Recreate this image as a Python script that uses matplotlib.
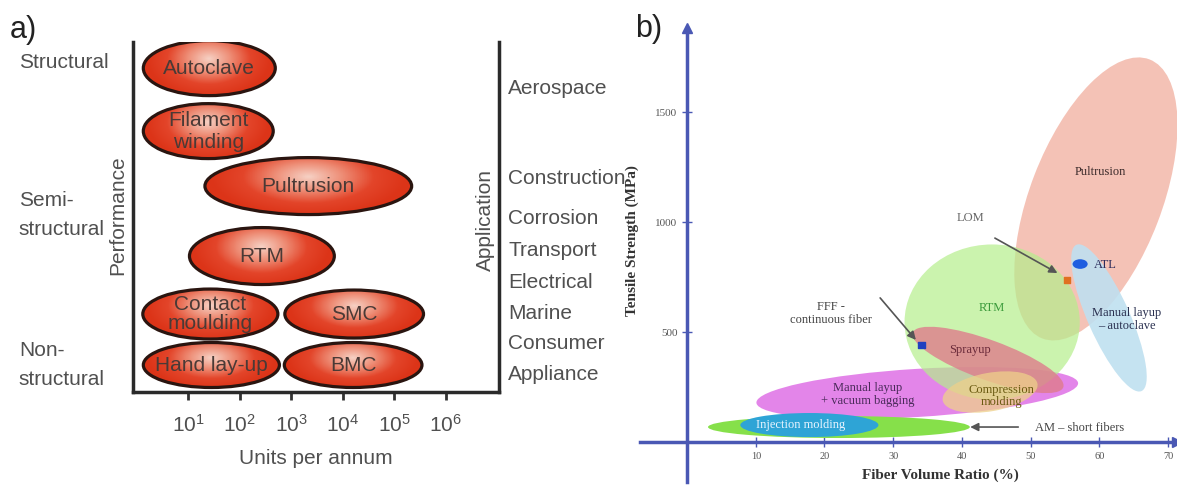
import numpy as np
import matplotlib.pyplot as plt
from matplotlib.patches import Ellipse
from matplotlib.colors import LinearSegmentedColormap
import matplotlib.transforms as mtransforms

plt.rcParams['font.family'] = ['Liberation Sans', 'DejaVu Sans']

# ---------------- panel a: process map ----------------
processes = ['Autoclave', 'Filament\nwinding', 'Pultrusion', 'RTM',
             'Contact\nmoulding', 'SMC', 'Hand lay-up', 'BMC']
units_center = [1.41, 1.39, 3.33, 2.43, 1.43, 4.22, 1.45, 4.20]   # log10(units per annum)
units_span = [2.56, 2.52, 4.01, 2.81, 2.62, 2.69, 2.64, 2.67]     # decades
perf_center = [6.48, 5.22, 4.12, 2.72, 1.56, 1.56, 0.54, 0.54]
perf_span = [1.10, 1.10, 1.14, 1.14, 1.00, 0.96, 0.90, 0.90]
name_spacing = [1.0, 1.2, 1.0, 1.0, 0.95, 1.0, 1.0, 1.0]

perf_levels = ['Structural', 'Semi-\nstructural', 'Non-\nstructural']
perf_level_y = [6.6, 3.54, 0.54]
applications = ['Aerospace', 'Construction', 'Corrosion', 'Transport',
                'Electrical', 'Marine', 'Consumer', 'Appliance']
app_y = [6.08, 4.28, 3.48, 2.84, 2.20, 1.58, 0.98, 0.36]
decades = [1, 2, 3, 4, 5, 6]

# ---------------- panel b: strength vs fibre volume ----------------
regions = ['Pultrusion', 'Manual layup - autoclave', 'Manual layup + vacuum bagging',
           'AM - short fibers', 'Injection molding', 'RTM', 'Sprayup',
           'Compression molding', 'ATL']
fvr_center = [59.5, 61.4, 33.5, 22.1, 17.8, 44.4, 43.8, 44.1, 57.2]     # %
ts_center = [1105, 564, 223, 68, 77, 545, 373, 227, 809]               # MPa
region_major = [43.5, 23.3, 46.9, 38.1, 20.1, 25.5, 23.3, 14.0, 2.2]   # in % units
region_minor = [19.2, 6.1, 7.0, 3.2, 3.5, 22.6, 5.8, 5.6, 1.4]
region_angle = [69, 114, 3.5, 0, 0, 0, -20, 10, 0]
region_color = ['#f4bfb2', '#bfe0f0', '#e27ee8', '#86e04a', '#2ea4d6',
                '#b5ee8c', '#de7c8c', '#eed08a', '#1f5ee0']
region_alpha = [0.95, 0.9, 0.95, 1.0, 1.0, 0.7, 0.8, 0.75, 1.0]

label_text = ['Pultrusion', 'LOM', 'ATL', 'Manual layup\n– autoclave', 'RTM',
              'FFF -\ncontinuous fiber', 'Sprayup', 'Manual layup\n+ vacuum bagging',
              'Compression\nmolding', 'Injection molding', 'AM – short fibers']
label_x = [60.1, 41.2, 60.8, 64.0, 44.4, 21.0, 41.2, 26.3, 45.7, 16.6, 57.2]
label_y = [1227, 1018, 803, 555, 609, 586, 418, 214, 209, 77, 64]
label_color = ['#3a2a2a', '#666666', '#2a2a5a', '#2a3050', '#3a9a3a', '#444444',
               '#6a2a3a', '#4a2a5a', '#6a5a10', '#e8f4ff', '#444444']

# arrows: (start fvr, start ts) -> (end fvr, end ts)
arrow_start_x = [44.8, 28.1, 48.2]
arrow_start_y = [927, 655, 68]
arrow_end_x = [53.9, 33.3, 41.2]
arrow_end_y = [768, 464, 68]
marker_x = [55.3, 34.1]
marker_y = [736, 441]
marker_color = ['#e07020', '#2040c0']

x_ticks_b = [10, 20, 30, 40, 50, 60, 70]
y_ticks_b = [500, 1000, 1500]

serif = ['Liberation Serif', 'DejaVu Serif']
gray = '#505050'

fig = plt.figure(figsize=(11.77, 4.9), dpi=100)

# ================= panel a =================
axa = fig.add_axes([0.113, 0.2, 0.311, 0.714])
cmap = LinearSegmentedColormap.from_list('shade', ['#f6cfc2', '#ee8f78', '#e3452a', '#dc3418'])
gu, gv = np.meshgrid(np.linspace(-1, 1, 120), np.linspace(-1, 1, 60))
shade = np.clip(np.sqrt((gu / 0.95) ** 2 + ((gv - 0.35) / 1.4) ** 2), 0, 1)

for name, xc, xs, yc, ys, ls in zip(processes, units_center, units_span,
                                    perf_center, perf_span, name_spacing):
    ell = Ellipse((xc, yc), xs, ys, facecolor='none', edgecolor='#2a1510', lw=2.3, zorder=3)
    axa.add_patch(ell)
    im = axa.imshow(shade, cmap=cmap, origin='lower', aspect='auto', zorder=2,
                    extent=[xc - xs / 2, xc + xs / 2, yc - ys / 2, yc + ys / 2])
    im.set_clip_path(ell)
    axa.text(xc, yc, name, ha='center', va='center', fontsize=15, color='#4a3a36',
             linespacing=ls, zorder=4)

axa.set_xlim(-0.07, 7.03)
axa.set_ylim(0, 7)
axa.set_xticks(decades, ['$\\mathregular{10^{%d}}$' % d for d in decades])
axa.set_yticks([])
axa.tick_params(axis='x', direction='out', length=6, width=2, color='#333333',
                labelsize=15, labelcolor=gray, pad=10)
axa.spines['top'].set_visible(False)
for s in ['left', 'right', 'bottom']:
    axa.spines[s].set_linewidth(2.5)
    axa.spines[s].set_color('#2a2a2a')
axa.set_xlabel('Units per annum', fontsize=15, color=gray, labelpad=9)

ytr = axa.get_yaxis_transform()
for t, y in zip(perf_levels, perf_level_y):
    axa.text(-0.312, y, t, transform=ytr, ha='left', va='center', fontsize=15,
             color=gray, linespacing=1.65)
for t, y in zip(applications, app_y):
    axa.text(1.025, y, t, transform=ytr, ha='left', va='center', fontsize=15, color=gray)
axa.text(-0.043, 3.54, 'Performance', transform=ytr, rotation=90, ha='center', va='center',
         fontsize=15, color=gray)
axa.text(0.962, 3.44, 'Application', transform=ytr, rotation=90, ha='center', va='center',
         fontsize=15, color=gray)

fig.text(0.008, 1 - 30 / 490, 'a)', fontsize=22, va='center', ha='left', color='#222222')
fig.text(635 / 1177, 1 - 29 / 490, 'b)', fontsize=22, va='center', ha='left', color='#222222')

# ================= panel b =================
axb = fig.add_axes([0.5438, 0.0163, 0.4562, 0.9265])
axb.set_xlim(-6.84, 71.3)
axb.set_ylim(-182, 1882)
fig.canvas.draw()
ppu = axb.transData.transform((1, 0))[0] - axb.transData.transform((0, 0))[0]

for i in range(len(regions)):
    trans = fig.dpi_scale_trans + mtransforms.ScaledTranslation(fvr_center[i], ts_center[i], axb.transData)
    axb.add_patch(Ellipse((0, 0), region_major[i] * ppu / fig.dpi, region_minor[i] * ppu / fig.dpi,
                          angle=region_angle[i], transform=trans, facecolor=region_color[i],
                          edgecolor='none', alpha=region_alpha[i], zorder=2 + i * 0.1))

for sx, sy, ex, ey in zip(arrow_start_x, arrow_start_y, arrow_end_x, arrow_end_y):
    axb.annotate('', xy=(ex, ey), xytext=(sx, sy), zorder=5,
                 arrowprops=dict(arrowstyle='-|>', color='#555555', lw=1.2,
                                 mutation_scale=12, shrinkA=0, shrinkB=0))
axb.scatter(marker_x, marker_y, s=22, c=marker_color, marker='s', zorder=6)

for t, x, y, c in zip(label_text, label_x, label_y, label_color):
    axb.text(x, y, t, ha='center', va='center', fontsize=9, color=c, family=serif,
             zorder=7, linespacing=1.1)

for s in ['top', 'right']:
    axb.spines[s].set_visible(False)
axb.spines['left'].set_position(('data', 0))
axb.spines['bottom'].set_position(('data', 0))
for s in ['left', 'bottom']:
    axb.spines[s].set_color('#4a58b4')
    axb.spines[s].set_linewidth(2.5)
axb.set_xticks(x_ticks_b)
axb.set_yticks(y_ticks_b)
axb.tick_params(direction='inout', length=7, width=1, color='#4a58b4', labelcolor='#555555')
axb.tick_params(axis='x', labelsize=7.5)
axb.tick_params(axis='y', labelsize=8)
for lbl in axb.get_xticklabels() + axb.get_yticklabels():
    lbl.set_family(serif)
axb.plot([1], [0], '>', color='#4a58b4', ms=7, transform=axb.get_yaxis_transform(), clip_on=False)
axb.plot([0], [1], '^', color='#4a58b4', ms=7, transform=axb.get_xaxis_transform(), clip_on=False)
axb.text(-8.0, 918, 'Tensile Strength (MPa)', rotation=90, ha='center', va='center',
         fontsize=11, fontweight='bold', color='#333333', family=serif)
axb.text(36.8, -150, 'Fiber Volume Ratio (%)', ha='center', va='center',
         fontsize=11, fontweight='bold', color='#333333', family=serif)

fig.savefig('out.png', dpi=100)
